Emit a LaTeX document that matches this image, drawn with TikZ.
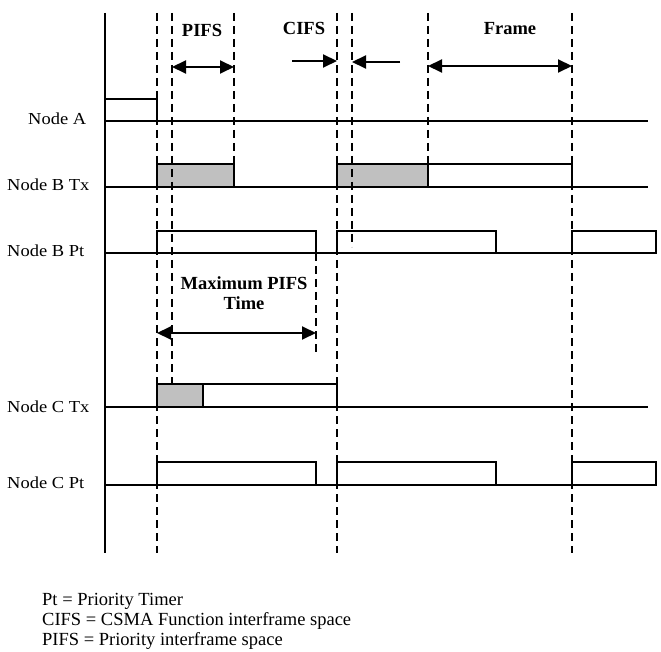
\documentclass[tikz,border=0pt]{standalone}
\usepackage{fontspec}
\setmainfont{Liberation Serif}
\newfontfamily\lblfont[FakeStretch=1.1]{Liberation Serif}
\usetikzlibrary{arrows.meta}
\definecolor{boxgray}{HTML}{C0C0C0}
\begin{document}
\begin{tikzpicture}[x=1pt,y=-1pt,
  sig/.style={line width=2pt},
  dline/.style={line width=1.8pt, dash pattern=on 8pt off 5pt},
  arr/.style={line width=2pt, -{Triangle[length=14pt,width=13pt]}},
  darr/.style={line width=2pt, {Triangle[length=14pt,width=13pt]}-{Triangle[length=14pt,width=13pt]}},
  lbl/.style={font=\lblfont\fontsize{16.8}{20}\selectfont, anchor=west, inner sep=0pt},
  blbl/.style={font=\fontsize{18.5}{20}\selectfont\bfseries, inner sep=0pt, align=center},
  leg/.style={font=\fontsize{18.5}{20.5}\selectfont, anchor=west, inner sep=0pt},
  wbox/.style={draw, line width=2pt, fill=white},
  gbox/.style={draw, line width=2pt, fill=boxgray}
]
\useasboundingbox (0,0) rectangle (661,652);

% boxes (pulses)
% Node A
\draw[wbox] (105,121) rectangle (157,99);
% Node B Tx
\draw[gbox] (157,187) rectangle (234,164);
\draw[gbox] (337,187) rectangle (428,164);
\draw[wbox] (428,187) rectangle (572,164);
% Node B Pt
\draw[wbox] (157,253) rectangle (316,231);
\draw[wbox] (337,253) rectangle (496,231);
\draw[wbox] (572,253) rectangle (656,231);
% Node C Tx
\draw[gbox] (157,407) rectangle (203,384);
\draw[wbox] (203,407) rectangle (337,384);
% Node C Pt
\draw[wbox] (157,485) rectangle (316,462);
\draw[wbox] (337,485) rectangle (496,462);
\draw[wbox] (572,485) rectangle (656,462);

% dashed guide lines
\coordinate (d1t) at (157,13);  \coordinate (d1b) at (157,553);
\coordinate (d2t) at (172,13);  \coordinate (d2b) at (172,384);
\coordinate (d3t) at (234,13);  \coordinate (d3b) at (234,187);
\coordinate (d4t) at (316,253); \coordinate (d4b) at (316,355);
\coordinate (d5t) at (337,13);  \coordinate (d5b) at (337,553);
\coordinate (d6t) at (352,13);  \coordinate (d6b) at (352,247);
\coordinate (d7t) at (428,13);  \coordinate (d7b) at (428,187);
\coordinate (d8t) at (572,13);  \coordinate (d8b) at (572,553);
\foreach \i in {1,...,8} { \draw[dline] (d\i t) -- (d\i b); }

% axis and baselines
\coordinate (axt) at (105,13); \coordinate (axb) at (105,553);
\draw[sig] (axt) -- (axb);
\foreach \n/\y in {a/121, btx/187, bpt/253, ctx/407, cpt/485} {
  \coordinate (\n l) at (105,\y); \coordinate (\n r) at (648,\y);
  \draw[sig] (\n l) -- (\n r);
}

% labels
\node[lbl] (la) at (28,119) {Node A};
\node[lbl] (lbtx) at (7,185) {Node B Tx};
\node[lbl] (lbpt) at (7,251) {Node B Pt};
\node[lbl] (lctx) at (7,407) {Node C Tx};
\node[lbl] (lcpt) at (7,483) {Node C Pt};

\node[blbl] (pifs) at (202,30) {PIFS};
\node[blbl] (cifs) at (304,28) {CIFS};
\node[blbl] (frame) at (510,29) {Frame};
\node[blbl] (maxp) at (244,293) {Maximum PIFS\\Time};

% arrows
\coordinate (pa1) at (172,67); \coordinate (pa2) at (234,67);
\draw[darr] (pa1) -- (pa2);
\coordinate (ca1) at (292,61); \coordinate (ca2) at (337,61);
\draw[arr] (ca1) -- (ca2);
\coordinate (cb1) at (400,62); \coordinate (cb2) at (352,62);
\draw[arr] (cb1) -- (cb2);
\coordinate (fa1) at (428,66); \coordinate (fa2) at (572,66);
\draw[darr] (fa1) -- (fa2);
\coordinate (ma1) at (157,333); \coordinate (ma2) at (316,333);
\draw[darr] (ma1) -- (ma2);

% legend
\node[leg] (g1) at (42,601) {Pt = Priority Timer};
\node[leg] (g2) at (42,621) {CIFS = CSMA Function interframe space};
\node[leg] (g3) at (42,641) {PIFS = Priority interframe space};
\end{tikzpicture}
\end{document}
